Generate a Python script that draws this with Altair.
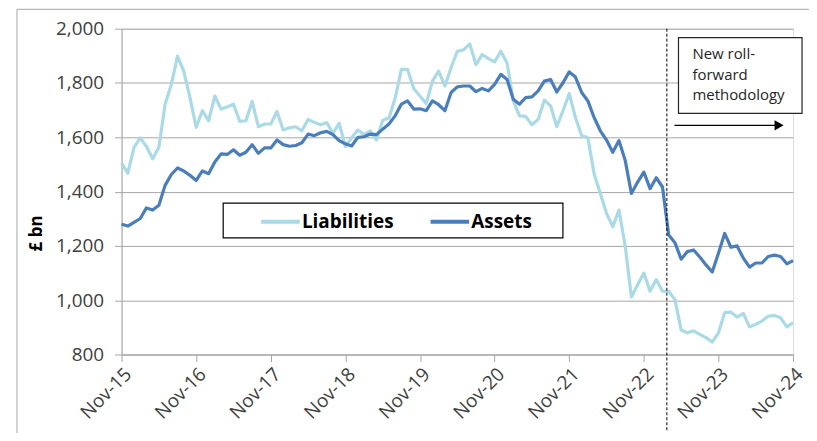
import json
import altair as alt
import pandas as pd

# ---------------- data ----------------
tick_labels = ["Nov-15", "Nov-16", "Nov-17", "Nov-18", "Nov-19",
               "Nov-20", "Nov-21", "Nov-22", "Nov-23", "Nov-24"]
series_names = ["Liabilities", "Assets"]
series_colors = ["#a9dae6", "#4a7ebb"]
y_ticks = [800, 1000, 1200, 1400, 1600, 1800, 2000]

liabilities = [
    1505, 1468, 1563, 1598, 1566, 1521, 1563, 1722, 1795, 1899,
    1844, 1746, 1637, 1698, 1661, 1752, 1704, 1712, 1722, 1659,
    1661, 1732, 1639, 1649, 1649, 1695, 1627, 1635, 1639, 1624,
    1666, 1655, 1646, 1654, 1615, 1651, 1566, 1598, 1627, 1610,
    1624, 1590, 1663, 1671, 1744, 1850, 1850, 1779, 1752, 1724,
    1807, 1844, 1789, 1856, 1917, 1922, 1944, 1868, 1905, 1890,
    1878, 1917, 1874, 1734, 1679, 1677, 1646, 1666, 1737, 1716,
    1639, 1698, 1761, 1673, 1606, 1598, 1466, 1393, 1320, 1271,
    1332, 1200, 1012, 1057, 1100, 1033, 1076, 1033, 1033, 1002,
    890, 880, 887, 874, 862, 846, 880, 954, 956, 938,
    951, 902, 911, 923, 941, 944, 935, 902, 917,
]
assets = [
    1280, 1273, 1287, 1301, 1340, 1332, 1350, 1423, 1463, 1487,
    1476, 1460, 1441, 1476, 1466, 1509, 1539, 1537, 1554, 1534,
    1545, 1573, 1541, 1561, 1561, 1590, 1573, 1567, 1570, 1580,
    1612, 1606, 1617, 1622, 1610, 1588, 1576, 1568, 1600, 1602,
    1612, 1610, 1630, 1649, 1679, 1722, 1734, 1704, 1705, 1698,
    1734, 1720, 1698, 1765, 1786, 1789, 1789, 1768, 1780, 1771,
    1795, 1832, 1813, 1740, 1722, 1746, 1749, 1771, 1807, 1813,
    1767, 1801, 1841, 1822, 1765, 1734, 1673, 1624, 1590, 1545,
    1588, 1515, 1393, 1435, 1472, 1411, 1451, 1417, 1240, 1212,
    1151, 1179, 1185, 1159, 1130, 1104, 1173, 1246, 1195, 1200,
    1155, 1122, 1137, 1137, 1161, 1166, 1161, 1134, 1146,
]
break_month = [87.7]          # methodology change (between Feb-23 and Mar-23)
annotation_lines = ["New roll-", "forward", "methodology"]

# ---------------- tables ----------------
n = len(assets)
df = pd.DataFrame({
    "month": list(range(n)) * 2,
    "value": liabilities + assets,
    "series": [series_names[0]] * n + [series_names[1]] * n,
})
one = pd.DataFrame({"k": [0]})
brk = pd.DataFrame({"month": break_month})

W, H = 674, 327
FONT = "Open Sans"
GRID = "#a6a6a6"
label_expr = json.dumps(tick_labels) + "[round(datum.value / 12)]"

x_scale = alt.Scale(domain=[0, n - 1], nice=False, zero=False)
y_scale = alt.Scale(domain=[800, 2000], nice=False, zero=False)

lines = alt.Chart(df).mark_line(strokeWidth=3.2, strokeJoin="round").encode(
    x=alt.X("month:Q", scale=x_scale,
            axis=alt.Axis(values=list(range(0, n, 12)), labelExpr=label_expr,
                          title=None, grid=False, labelAngle=-45,
                          labelAlign="right", labelBaseline="top",
                          tickSize=7, labelPadding=3, labelFontSize=19,
                          labelColor="#404040", domainColor=GRID,
                          tickColor=GRID, labelFont=FONT)),
    y=alt.Y("value:Q", scale=y_scale,
            axis=alt.Axis(values=y_ticks, format=",.0f", title="£ bn",
                          titleFontSize=17, titleFontWeight="bold",
                          titleColor="#000000", titleFont=FONT,
                          titleX=-85, titleY=205, titleAngle=270,
                          titleAlign="center", titleBaseline="middle",
                          labelFontSize=19, labelColor="#404040",
                          labelFont=FONT, tickSize=7, labelPadding=11,
                          domainColor=GRID, tickColor=GRID,
                          gridColor=GRID, gridWidth=1)),
    color=alt.Color("series:N",
                    scale=alt.Scale(domain=series_names, range=series_colors),
                    sort=series_names,
                    legend=alt.Legend(orient="none", legendX=138, legendY=172,
                                      direction="horizontal", title=None,
                                      symbolType="stroke", symbolSize=1500,
                                      symbolStrokeWidth=4, labelFontSize=19,
                                      labelFontWeight="bold",
                                      labelColor="#000000", labelFont=FONT,
                                      labelOffset=0, columnPadding=28,
                                      padding=0)),
    detail="series:N",
)

outer_frame = alt.Chart(one).mark_rect(fill=None, stroke="#a6a6a6", strokeWidth=1).encode(
    x=alt.value(-105), x2=alt.value(800), y=alt.value(-19.5), y2=alt.value(500))

legend_box = alt.Chart(one).mark_rect(fill="white", stroke="black", strokeWidth=1.2).encode(
    x=alt.value(102), x2=alt.value(443), y=alt.value(175), y2=alt.value(210))

break_rule = alt.Chart(brk).mark_rule(color="black", strokeWidth=1, strokeDash=[3, 2]).encode(
    x=alt.X("month:Q", scale=x_scale), y=alt.value(0), y2=alt.value(405))

note_box = alt.Chart(one).mark_rect(fill="white", stroke="#262626", strokeWidth=1.2).encode(
    x=alt.value(559), x2=alt.value(683), y=alt.value(9), y2=alt.value(85))

note_text = alt.Chart(one).mark_text(align="left", baseline="middle", fontSize=15,
                                     lineHeight=21, font=FONT, color="#262626").encode(
    x=alt.value(573), y=alt.value(25), text=alt.value(annotation_lines))

arrow_line = alt.Chart(one).mark_rule(color="black", strokeWidth=1.2).encode(
    x=alt.value(555), x2=alt.value(657), y=alt.value(97))

arrow_head = alt.Chart(one).mark_point(shape="triangle-right", filled=True, size=110,
                                       color="black", opacity=1).encode(
    x=alt.value(660), y=alt.value(97))

chart = alt.layer(
    outer_frame, legend_box, lines, break_rule, note_box, note_text, arrow_line, arrow_head
).resolve_scale(x="shared").properties(
    width=W, height=H,
    padding={"left": 114, "top": 20, "right": 16, "bottom": 78},
    autosize=alt.AutoSizeParams(type="none"),
).configure_view(stroke=GRID, strokeWidth=1).configure(background="white")

chart.save("out.html", embed_options={"renderer": "svg", "actions": False})
